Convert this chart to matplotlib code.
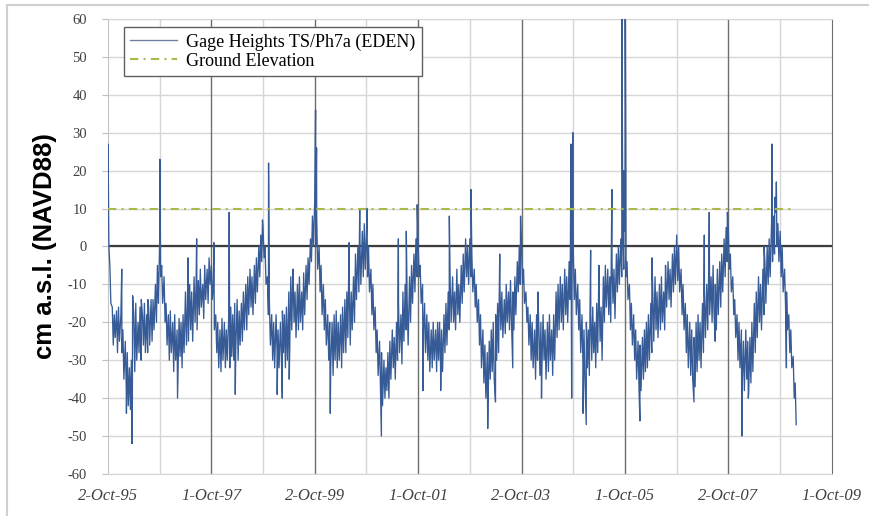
import matplotlib.pyplot as plt
from matplotlib.lines import Line2D
import numpy as np
import pandas as pd

plt.rcParams['axes.unicode_minus'] = False

# gage heights: upper / lower edge of the daily band for every
# half month (1st and 16th), one list per water year (Oct-Sep)
hi_1996 = [9, -5, -16, -18, -17, -16, -18, -22, -25, -28, -32, -30,
           -18, -15, -20, -16, -18, -15, -18, -16, -14, -14, -10, -5]
lo_1996 = [0, -15, -26, -24, -28, -25, -28, -35, -38, -42, -43, -40,
           -33, -30, -28, -30, -26, -28, -28, -26, -25, -22, -20, -15]
hi_1997 = [2, -5, -8, -15, -18, -17, -20, -18, -22, -19, -20, -18,
           -12, -15, -10, -12, -8, -10, -9, -6, -10, -5, -6, -3]
lo_1997 = [-8, -15, -20, -26, -30, -28, -33, -30, -32, -29, -32, -28,
           -26, -25, -22, -25, -20, -22, -18, -16, -19, -14, -15, -10]
hi_1998 = [-5, -10, -18, -20, -22, -19, -20, -22, -18, -16, -18, -15,
           -14, -17, -15, -12, -10, -8, -6, -8, -5, -3, 0, 3]
lo_1998 = [-14, -22, -28, -32, -33, -30, -32, -30, -32, -29, -30, -28,
           -30, -26, -25, -22, -22, -18, -16, -18, -15, -12, -8, -4]
hi_1999 = [5, 0, -8, -15, -18, -20, -18, -22, -20, -17, -18, -16,
           -12, -8, -6, -12, -10, -8, -12, -7, -5, -3, 2, 8]
lo_1999 = [-3, -10, -18, -26, -30, -32, -28, -32, -30, -28, -32, -30,
           -26, -22, -20, -24, -22, -20, -22, -18, -14, -10, -4, 0]
hi_2000 = [12, 8, 0, -5, -10, -14, -18, -20, -20, -18, -17, -20,
           -18, -16, -14, -12, -10, -12, -8, -2, 0, 2, 4, 6]
lo_2000 = [0, -6, -12, -18, -22, -26, -30, -32, -34, -30, -32, -30,
           -32, -28, -28, -24, -26, -22, -20, -14, -12, -10, -8, -6]
hi_2001 = [4, 0, -6, -10, -16, -22, -25, -28, -30, -32, -28, -25,
           -22, -24, -20, -15, -18, -12, -10, -14, -8, -5, -2, 2]
lo_2001 = [-8, -12, -18, -22, -28, -34, -38, -42, -40, -38, -40, -35,
           -32, -35, -30, -28, -31, -25, -22, -26, -20, -15, -12, -8]
hi_2002 = [0, -5, -10, -15, -18, -20, -22, -20, -22, -20, -20, -22,
           -18, -15, -12, -10, -8, -12, -6, -10, -5, -2, 2, 0]
lo_2002 = [-8, -15, -22, -28, -30, -33, -32, -30, -33, -30, -32, -33,
           -28, -26, -22, -20, -20, -22, -18, -20, -15, -12, -8, -10]
hi_2003 = [2, -2, -6, -10, -14, -18, -22, -26, -28, -25, -22, -20,
           -18, -15, -10, -12, -14, -10, -12, -9, -12, -8, -4, 0]
lo_2003 = [-8, -12, -16, -20, -26, -32, -36, -40, -38, -35, -33, -35,
           -30, -28, -22, -24, -23, -20, -22, -20, -22, -18, -12, -10]
hi_2004 = [0, -6, -12, -16, -18, -20, -22, -18, -22, -20, -18, -22,
           -20, -18, -22, -18, -12, -10, -8, -10, -6, -8, -4, 0]
lo_2004 = [-10, -15, -20, -26, -30, -32, -35, -30, -34, -32, -30, -35,
           -33, -30, -34, -30, -24, -22, -20, -22, -18, -20, -14, -10]
hi_2005 = [-2, -6, -10, -14, -18, -22, -20, -22, -18, -16, -20, -15,
           -12, -16, -8, -5, -6, -8, -4, -6, -2, 0, 2, 4]
lo_2005 = [-14, -18, -22, -28, -32, -35, -32, -34, -30, -28, -32, -28,
           -25, -30, -20, -16, -18, -20, -15, -19, -12, -10, -8, -6]
hi_2006 = [4, -4, -10, -15, -18, -22, -25, -26, -24, -22, -20, -18,
           -15, -12, -8, -12, -10, -8, -12, -6, -4, -6, -2, 0]
lo_2006 = [-8, -14, -22, -26, -30, -35, -38, -38, -35, -33, -32, -30,
           -28, -25, -22, -24, -22, -20, -22, -16, -14, -16, -12, -10]
hi_2007 = [3, 0, -6, -10, -15, -18, -20, -22, -24, -20, -18, -20,
           -15, -12, -10, -6, -8, -5, -10, -6, -4, -2, 2, 5]
lo_2007 = [-9, -12, -18, -22, -28, -32, -34, -35, -37, -33, -30, -32,
           -28, -24, -22, -18, -20, -18, -22, -18, -16, -12, -8, -4]
hi_2008 = [4, -2, -8, -14, -18, -20, -22, -25, -22, -25, -24, -20,
           -15, -12, -8, -10, -6, -4, 0, 2, 6, 8, 9, 6]
lo_2008 = [-6, -12, -18, -24, -30, -32, -35, -38, -35, -38, -36, -33,
           -28, -24, -20, -22, -18, -15, -10, -8, -4, -2, 0, -4]
hi_2009 = [4, 0, -6, -12, -18, -22, -29, -36]
lo_2009 = [-8, -12, -16, -22, -28, -32, -40, -47]

# single-day spikes standing out of the band
spike_dates = ['1995-10-03', '1996-01-08', '1996-02-10', '1996-03-20', '1996-03-25',
               '1996-05-25', '1996-07-10', '1996-10-03', '1997-02-05', '1997-04-20',
               '1997-06-20', '1997-10-20', '1998-02-05', '1998-03-20', '1998-09-28',
               '1998-11-10', '1999-01-10', '1999-02-15', '1999-04-05', '1999-05-01',
               '1999-10-08', '1999-10-15', '2000-01-20', '2000-06-01', '2000-08-15',
               '2000-10-05', '2001-01-15', '2001-05-15', '2001-07-10', '2001-09-25',
               '2001-11-05', '2002-03-10', '2002-05-10', '2002-10-10', '2003-02-05',
               '2003-04-01', '2003-05-01', '2003-08-01', '2003-09-25', '2004-02-20',
               '2004-01-25', '2004-09-15', '2004-09-20', '2004-09-28', '2004-12-10',
               '2005-01-01', '2005-02-01', '2005-04-01', '2005-07-01', '2005-09-10',
               '2005-09-25', '2005-10-03', '2005-10-08', '2006-01-15', '2006-04-10',
               '2006-07-15', '2007-02-01', '2007-04-15', '2007-05-20', '2007-07-01',
               '2007-09-25', '2008-01-05', '2008-02-20', '2008-06-10', '2008-08-05',
               '2008-08-25', '2008-09-05', '2008-11-15']
spike_values = [27, -6, -44, -52, -13,
                -14, -14, 23, -40, -3,
                2, 1, 9, -39, 7,
                22, -39, -40, -35, -6,
                36, 26, -44, 1, 10,
                10, -50, 2, 4, 11,
                -38, -38, 8, 15, -48,
                -41, -2, -32, 8, -40,
                -12, 27, -40, 30, -44,
                -47, -1, -5, 15, 70,
                20, 70, 20, -46, -3,
                -5, -41, 3, 9, -25,
                9, -50, -40, 0, 27,
                13, 17, -32]

hi = (hi_1996 + hi_1997 + hi_1998 + hi_1999 + hi_2000 + hi_2001 + hi_2002 +
      hi_2003 + hi_2004 + hi_2005 + hi_2006 + hi_2007 + hi_2008 + hi_2009)
lo = (lo_1996 + lo_1997 + lo_1998 + lo_1999 + lo_2000 + lo_2001 + lo_2002 +
      lo_2003 + lo_2004 + lo_2005 + lo_2006 + lo_2007 + lo_2008 + lo_2009)
half_months = pd.date_range('1995-10-01', periods=len(hi), freq='SMS') + pd.Timedelta(days=1)

series = pd.concat([
    pd.Series(hi, index=half_months),
    pd.Series(lo, index=half_months + pd.Timedelta(days=7)),
    pd.Series(spike_values, index=pd.to_datetime(spike_dates)),
]).sort_index()

ground_elev = 10

tick_dates = pd.to_datetime(['1995-10-02', '1997-10-01', '1999-10-02', '2001-10-01',
                             '2003-10-02', '2005-10-01', '2007-10-02', '2009-10-01'])
tick_labels = ['2-Oct-95', '1-Oct-97', '2-Oct-99', '1-Oct-01',
               '2-Oct-03', '1-Oct-05', '2-Oct-07', '1-Oct-09']
minor_dates = pd.to_datetime(['1996-10-01', '1998-10-01', '2000-10-01', '2002-10-01',
                              '2004-10-01', '2006-10-01', '2008-10-01'])

fig = plt.figure(figsize=(8.7, 5.16), dpi=100)
ax = fig.add_axes([0.124, 0.0814, 0.832, 0.882])

ax.plot(series.index, series.values, color='#365b97', lw=0.95,
        label='Gage Heights TS/Ph7a (EDEN)', zorder=3)
ax.plot(half_months, np.full(len(half_months), ground_elev), color='#adb84a', lw=1.5,
        linestyle=(0, (4, 2.5, 1, 2.5)), label='Ground Elevation', zorder=4)

ax.set_xlim(tick_dates[0], tick_dates[-1])
ax.set_ylim(-60, 60)
ax.set_yticks(range(-60, 61, 10))
ax.set_yticklabels([str(v) for v in range(-60, 61, 10)], family='Liberation Serif',
                   fontsize=10.5, color='#404040')
ax.set_xticks(tick_dates)
ax.set_xticklabels(tick_labels, family='Liberation Serif', style='italic',
                   fontsize=12, color='#404040')
ax.set_xticks(minor_dates, minor=True)

ax.grid(axis='y', color='#d6d6d6', lw=1, zorder=0)
ax.grid(axis='x', which='minor', color='#d6d6d6', lw=1, zorder=0)
for d in tick_dates[1:-1]:
    ax.axvline(d, color='#6e6e6e', lw=1, zorder=2)
ax.axhline(0, color='#3c3c3c', lw=1.6, zorder=2)

ax.tick_params(axis='y', length=4, color='#c0c0c0', pad=11)
ax.tick_params(axis='x', which='both', length=0, pad=10)

ax.spines['left'].set_color('#c4c4c4')
ax.spines['top'].set_color('#d6d6d6')
ax.spines['bottom'].set_color('#d6d6d6')
ax.spines['right'].set_color('#6e6e6e')

ax.set_ylabel('cm a.s.l. (NAVD88)', family='Liberation Sans', fontweight='bold', fontsize=18.5)
ax.yaxis.set_label_coords(-0.07, 0.5)

leg = ax.legend(loc='upper left', bbox_to_anchor=(0.022, 0.982), borderaxespad=0,
                prop={'family': 'Liberation Serif', 'size': 13}, fancybox=False,
                framealpha=1, edgecolor='#606060', handlelength=2.6, borderpad=0.35,
                labelspacing=0.1, handletextpad=0.5)
leg.get_frame().set_linewidth(1)
leg.legend_handles[0].set_color('#6a7fa0')

# light frame around the picture
fig.add_artist(Line2D([7 / 870, 7 / 870], [0, 1 - 5 / 516], transform=fig.transFigure,
                      color='#cfcfcf', lw=1.5))
fig.add_artist(Line2D([7 / 870, 1], [1 - 5 / 516, 1 - 5 / 516], transform=fig.transFigure,
                      color='#cfcfcf', lw=1.5))

fig.savefig('out.png', dpi=100)
